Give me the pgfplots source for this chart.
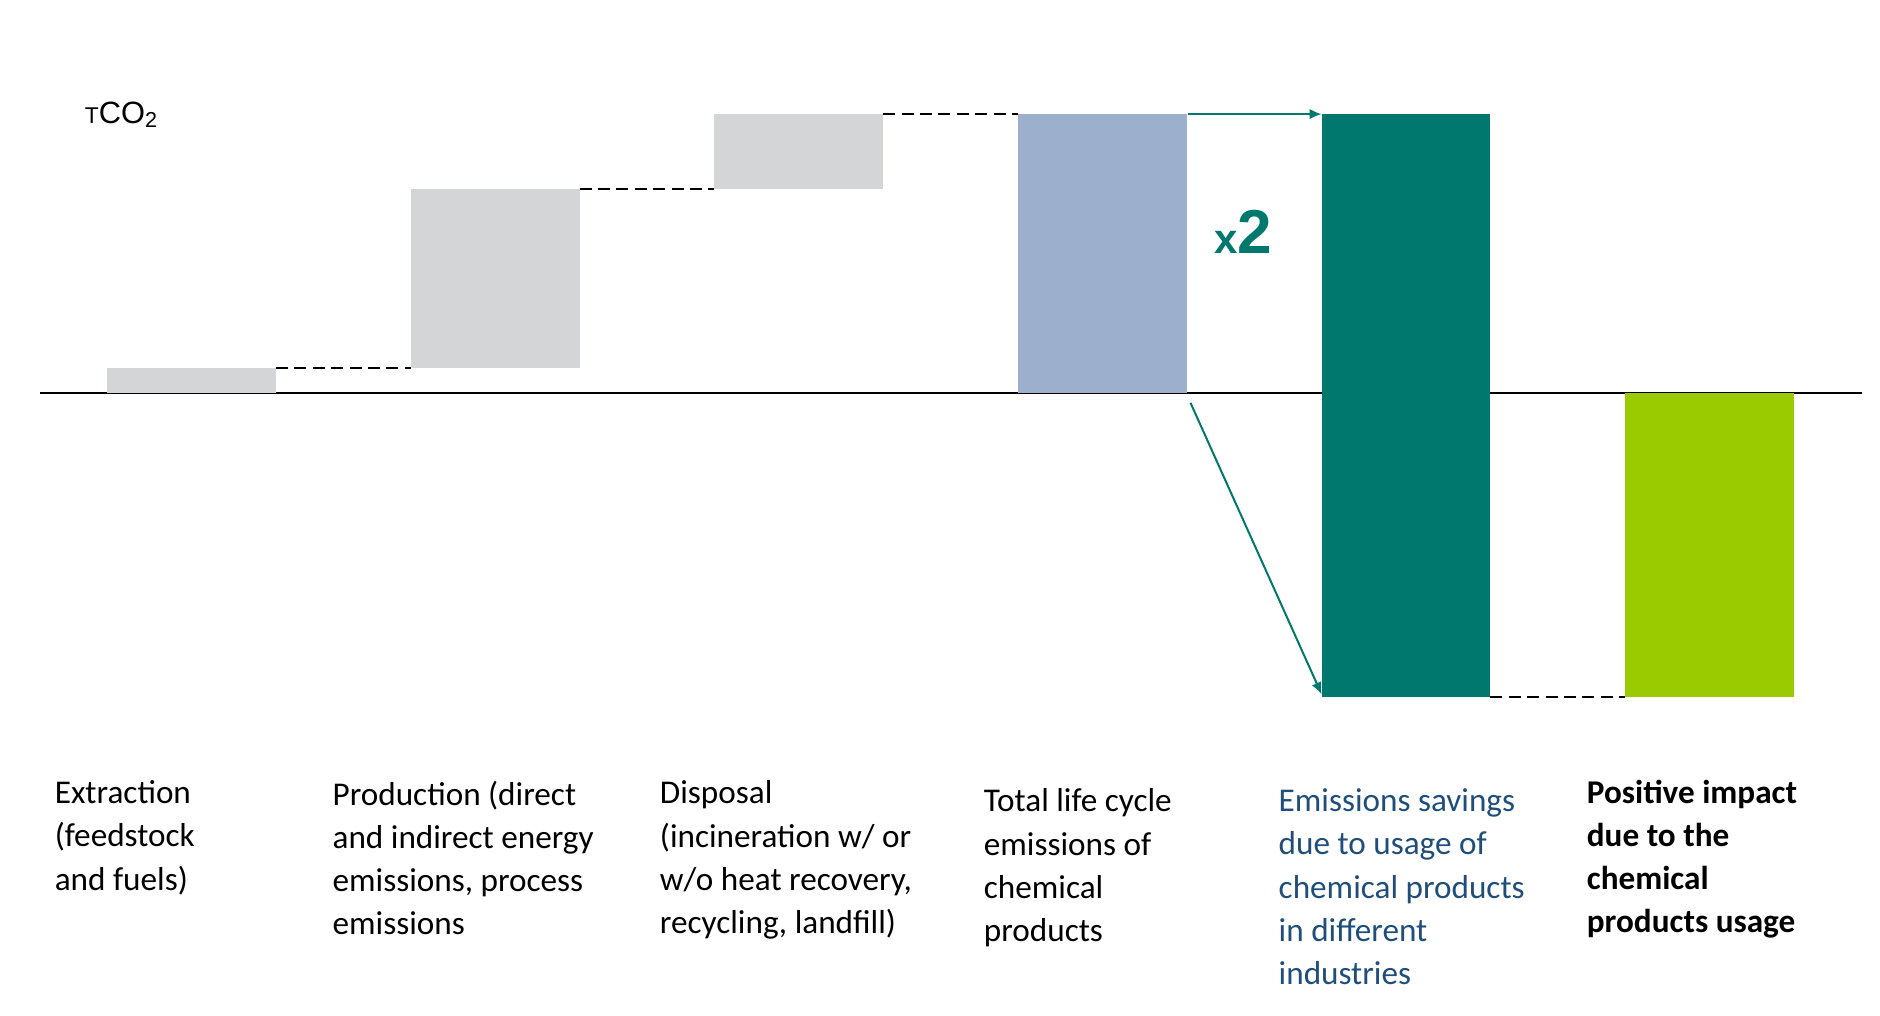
\documentclass[border=0pt]{standalone}
\usepackage{pgfplots}
\pgfplotsset{compat=1.18}
\usetikzlibrary{arrows.meta}
\usepackage{fontspec}
\setmainfont{Carlito}
\newfontfamily\arial{Liberation Sans}
\definecolor{cgrey}{HTML}{D4D5D7}
\definecolor{cblue}{HTML}{9CB0CE}
\definecolor{cteal}{HTML}{00786E}
\definecolor{cgreen}{HTML}{99CB00}
\definecolor{ctext}{HTML}{1F4E7A}
\begin{document}
\begin{tikzpicture}
\begin{axis}[
  width=470pt, height=254pt, scale only axis, hide axis, clip=false,
  xmin=-0.631, xmax=5.561, ymin=-223.3, ymax=140.9,
]
\path (rel axis cs:0,0) rectangle (rel axis cs:1,1);
% baseline (behind the bars)
\addplot[black, line width=0.6pt] coordinates {(-0.499,0) (5.502,0)};
% floating bars: corners (x-0.278, low) .. (x+0.278, high)
\addplot[fill=cgrey, draw=none] coordinates {(-0.278,0) (0.278,0) (0.278,9) (-0.278,9)} -- cycle;
\addplot[fill=cgrey, draw=none] coordinates {(0.722,9) (1.278,9) (1.278,73) (0.722,73)} -- cycle;
\addplot[fill=cgrey, draw=none] coordinates {(1.722,73) (2.278,73) (2.278,100) (1.722,100)} -- cycle;
\addplot[fill=cblue, draw=none] coordinates {(2.722,0) (3.278,0) (3.278,100) (2.722,100)} -- cycle;
\addplot[fill=cteal, draw=none] coordinates {(3.722,-109) (4.278,-109) (4.278,100) (3.722,100)} -- cycle;
\addplot[fill=cgreen, draw=none] coordinates {(4.722,-109) (5.278,-109) (5.278,0) (4.722,0)} -- cycle;
% connectors
\addplot[black, line width=0.5pt, dash pattern=on 3pt off 1.6pt] coordinates {(0.278,9) (0.722,9)};
\addplot[black, line width=0.5pt, dash pattern=on 3pt off 1.6pt] coordinates {(1.278,73) (1.722,73)};
\addplot[black, line width=0.5pt, dash pattern=on 3pt off 1.6pt] coordinates {(2.278,100) (2.722,100)};
\addplot[black, line width=0.5pt, dash pattern=on 3pt off 1.6pt] coordinates {(4.278,-109) (4.722,-109)};
% arrows
\addplot[cteal, line width=0.5pt, -{Latex[length=3pt,width=2.6pt]}] coordinates {(3.282,100) (3.722,100)};
\addplot[cteal, line width=0.5pt, -{Latex[length=3pt,width=2.6pt]}] coordinates {(3.29,-3.5) (3.722,-108)};
% annotations
\node[anchor=base west, inner sep=0pt, font=\arial\fontsize{7.7}{8}\selectfont] at (axis cs:-0.354,96.5) {{\fontsize{5.7}{6}\selectfont T}CO\raisebox{-0.25ex}{\fontsize{5.4}{6}\selectfont 2}};
\node[anchor=base west, inner sep=0pt, text=cteal, font=\arial\bfseries] at (axis cs:3.365,50) {{\fontsize{10.5}{11}\selectfont x}{\fontsize{15.5}{16}\selectfont 2}};
% category labels
\tikzset{lab/.style={anchor=north west, inner sep=0pt, align=left, font=\fontsize{8.3}{10.8}\selectfont}}
\node[lab] at (axis cs:-0.453,-138.7) {Extraction\\(feedstock\\and fuels)};
\node[lab] at (axis cs:0.462,-138.7) {Production (direct\\and indirect energy\\emissions, process\\emissions};
\node[lab] at (axis cs:1.540,-138.7) {Disposal\\(incineration w/ or\\w/o heat recovery,\\recycling, landfill)};
\node[lab] at (axis cs:2.607,-141.6) {Total life cycle\\emissions of\\chemical\\products};
\node[lab, text=ctext] at (axis cs:3.578,-141.6) {Emissions savings\\due to usage of\\chemical products\\in different\\industries};
\node[lab, font=\fontsize{8.3}{10.8}\selectfont\bfseries] at (axis cs:4.593,-138.4) {Positive impact\\due to the\\chemical\\products usage};
\end{axis}
\end{tikzpicture}
\end{document}
